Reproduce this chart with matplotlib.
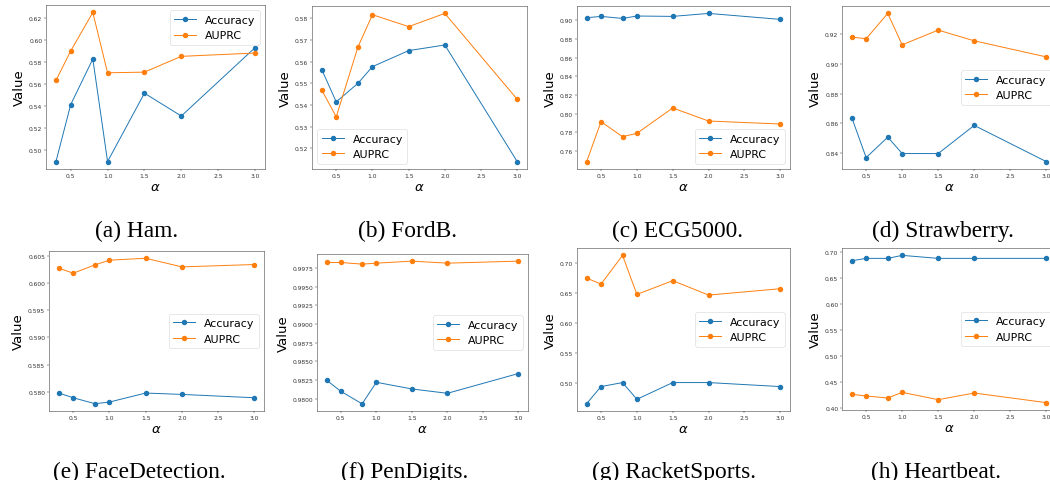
import matplotlib
matplotlib.use("Agg")
import matplotlib.pyplot as plt

# Sensitivity of Accuracy / AUPRC to the alpha hyper-parameter on eight datasets
alpha = [0.3, 0.5, 0.8, 1.0, 1.5, 2.0, 3.0]

ham_acc = [0.4896, 0.5415, 0.5831, 0.4896, 0.5519, 0.5311, 0.5934]
ham_auprc = [0.5635, 0.5904, 0.6255, 0.5705, 0.5711, 0.5855, 0.5885]

fordb_acc = [0.5563, 0.5414, 0.5500, 0.5577, 0.5651, 0.5677, 0.5138]
fordb_auprc = [0.5469, 0.5345, 0.5668, 0.5817, 0.5762, 0.5823, 0.5426]

ecg_acc = [0.9029, 0.9043, 0.9021, 0.9047, 0.9043, 0.9075, 0.9011]
ecg_auprc = [0.7486, 0.7914, 0.7753, 0.7789, 0.8061, 0.7921, 0.7889]

straw_acc = [0.8640, 0.8371, 0.8508, 0.8398, 0.8398, 0.8587, 0.8344]
straw_auprc = [0.9180, 0.9169, 0.9339, 0.9128, 0.9227, 0.9155, 0.9047]

face_acc = [0.57976, 0.57890, 0.57780, 0.57811, 0.57976, 0.57951, 0.57890]
face_auprc = [0.60269, 0.60177, 0.60330, 0.60416, 0.60451, 0.60293, 0.60336]

pen_acc = [0.98250, 0.98102, 0.97934, 0.98222, 0.98133, 0.98075, 0.98339]
pen_auprc = [0.99821, 0.99821, 0.99799, 0.99812, 0.99839, 0.99812, 0.99839]

racket_acc = [0.4649, 0.4933, 0.5000, 0.4721, 0.5000, 0.5000, 0.4933]
racket_auprc = [0.6744, 0.6644, 0.7123, 0.6472, 0.6701, 0.6461, 0.6567]

heart_acc = [0.6827, 0.6872, 0.6872, 0.6930, 0.6872, 0.6872, 0.6872]
heart_auprc = [0.4256, 0.4224, 0.4185, 0.4294, 0.4153, 0.4281, 0.4096]

captions = ["(a) Ham.", "(b) FordB.", "(c) ECG5000.", "(d) Strawberry.",
            "(e) FaceDetection.", "(f) PenDigits.", "(g) RacketSports.",
            "(h) Heartbeat."]

panels = [
    (ham_acc, ham_auprc, "upper right"),
    (fordb_acc, fordb_auprc, "lower left"),
    (ecg_acc, ecg_auprc, "lower right"),
    (straw_acc, straw_auprc, "center right"),
    (face_acc, face_auprc, "center right"),
    (pen_acc, pen_auprc, "center right"),
    (racket_acc, racket_auprc, "center right"),
    (heart_acc, heart_auprc, "center right"),
]

W, H = 1050, 481
fig = plt.figure(figsize=(W / 100, H / 100), dpi=100)

# axes boxes in pixels: left, top, right, bottom
boxes = [
    (46, 6, 265, 170), (312, 7, 527, 170), (577, 7, 790, 170), (842, 7, 1056, 170),
    (49, 252, 264, 412), (317, 255, 528, 412), (577, 249, 790, 412), (842, 249, 1056, 411),
]
cap_x = [137, 408, 678, 943, 139, 405, 674, 936]
cap_y = [237, 237, 237, 237, 478, 478, 478, 478]

for (acc, auprc, loc), (l, t, r, b), cx, cy, cap in zip(panels, boxes, cap_x, cap_y, captions):
    ax = fig.add_axes([l / W, 1 - b / H, (r - l) / W, (b - t) / H])
    ax.plot(alpha, acc, marker="o", color="#1f77b4", lw=0.7, ms=2.9, label="Accuracy")
    ax.plot(alpha, auprc, marker="o", color="#ff7f0e", lw=0.7, ms=2.9, label="AUPRC")
    ax.set_xticks([0.5, 1.0, 1.5, 2.0, 2.5, 3.0])
    ax.tick_params(labelsize=4.3, width=0.35, length=1.5, pad=1.2, colors="#333333")
    for s in ax.spines.values():
        s.set_linewidth(0.4)
        s.set_color("#444444")
    ax.set_xlabel(r"$\alpha$", fontsize=9.5, labelpad=1.5)
    ax.set_ylabel("Value", fontsize=9.5, labelpad=2)
    leg = ax.legend(loc=loc, fontsize=7.9, framealpha=0.8)
    leg.get_frame().set_linewidth(0.4)
    fig.text(cx / W, 1 - cy / H, cap, ha="center", va="baseline",
             fontsize=16.8, family="Liberation Serif")

fig.savefig("out.png", dpi=100)
